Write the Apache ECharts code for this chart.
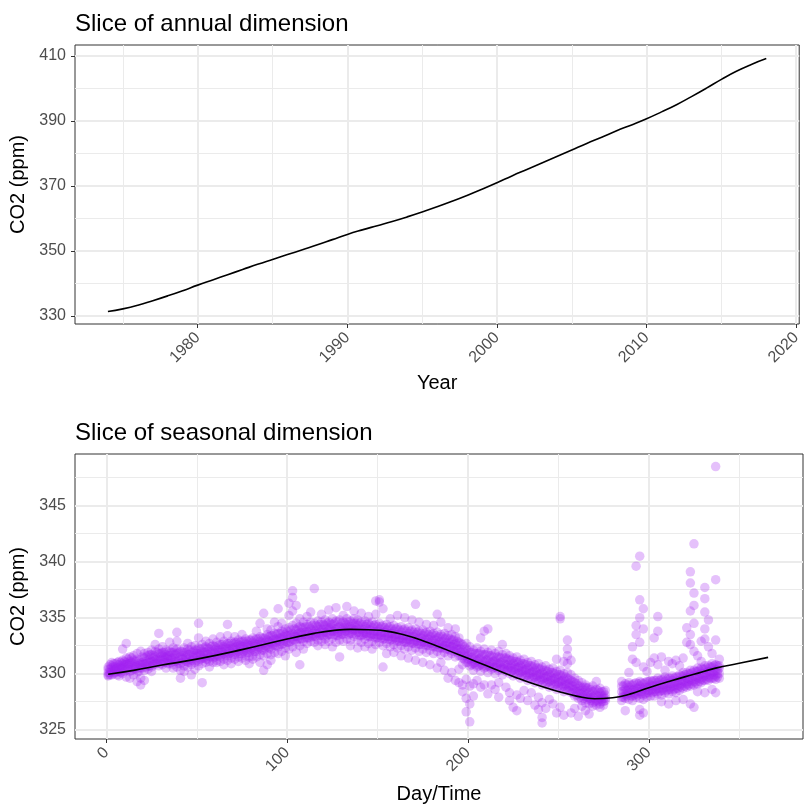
<!DOCTYPE html>
<html>
<head>
<meta charset="utf-8">
<script src="https://cdn.jsdelivr.net/npm/echarts@6/dist/echarts.min.js"></script>
<style>
html,body{margin:0;padding:0;background:#fff;}
#chart{width:804px;height:806px;}
</style>
</head>
<body>
<div id="chart"></div>
<script>
// ---------- Top panel: annual dimension ----------
const annualYears = [1974,1975,1976,1977,1978,1979,1980,1981,1982,1983,1984,1985,1986,1987,1988,1989,1990,1991,1992,1993,1994,1995,1996,1997,1998,1999,2000,2001,2002,2003,2004,2005,2006,2007,2008,2009,2010,2011,2012,2013,2014,2015,2016,2017,2018];
const annualCO2 = [331.4,332.2,333.3,334.7,336.2,337.8,339.5,341.1,342.7,344.3,345.9,347.4,348.9,350.4,351.9,353.5,355.1,356.5,357.8,359.1,360.5,362.0,363.6,365.3,367.1,369.0,371.0,373.1,375.1,377.1,379.1,381.1,383.1,385.0,387.0,388.8,390.7,392.8,395.0,397.5,400.1,402.8,405.3,407.4,409.2];
const yearTicks = [1980,1990,2000,2010,2020];
const yearMinor = [1975,1985,1995,2005,2015];
const annualYTicks = [330,350,370,390,410];
const annualYMinor = [340,360,380,400];

// ---------- Bottom panel: seasonal dimension ----------
const fitDays = [1,15,30,50,75,100,115,125,135,145,155,165,175,185,195,205,215,225,237,250,260,270,280,290,300,312,325,337,350,366];
const fitCO2 = [329.95,330.3,330.75,331.3,332.15,333.1,333.6,333.85,333.96,333.92,333.8,333.45,332.95,332.33,331.7,331.05,330.4,329.76,329.05,328.42,328.0,327.77,327.85,328.2,328.75,329.35,329.95,330.5,330.93,331.46];
const dayTicks = [0,100,200,300];
const dayMinor = [50,150,250,350];
const seasonalYTicks = [325,330,335,340,345];
const seasonalYMinor = [327.5,332.5,337.5,342.5,347.5];

// observations: [day, CO2 readings on that day...]
const obsJan = [
[1,329.8,330.1,330.4,329.9,330.6],[2,329.9,330.4,330.8,330.1],[3,330.2,330.7,329.9,330.5,331.0],[4,330.0,330.6,330.9,330.3],
[5,330.4,330.9,330.1,330.6,330.3],[6,330.2,330.5,331.0,329.9],[7,330.8,330.2,331.1,330.5,329.8],[8,330.1,330.7,331.0,330.4],
[9,330.6,331.2,330.0,330.9,330.4,332.2],[10,330.2,330.8,331.1,330.5],[11,330.3,331.4,330.8,329.7,331.0,332.7],[12,330.4,330.9,331.3,330.6],
[13,330.9,331.5,330.2,331.1,329.6],[14,330.3,331.0,331.4,330.7],[15,331.2,330.6,331.6,330.4,329.9],[16,330.4,330.8,331.1,330.6],
[17,330.7,331.3,330.1,329.3,331.8],[18,330.2,330.9,331.2,330.5],[19,330.5,331.0,329.6,330.8,329.0,332.0],[20,330.5,331.0,331.5,330.8],
[21,331.4,330.9,331.8,330.3,329.4],[22,330.6,331.1,331.5,330.9],[23,331.6,331.0,330.4,331.9,330.7],[24,330.7,331.3,331.7,331.0],
[25,331.1,331.7,330.6,332.1,330.2],[26,330.8,331.4,331.6,331.1],[27,331.5,330.9,332.0,331.2,332.6],[28,330.9,331.3,331.9,331.0],
[29,331.8,331.2,330.7,332.2,333.6],[30,330.9,331.5,331.8,331.2],[31,331.3,331.9,330.8,331.6,332.4]];
const obsFeb = [
[32,331.0,331.5,331.9,331.2],[33,331.0,331.7,330.5,332.1,331.4],[34,330.9,331.6,332.0,331.3],[35,331.6,332.0,330.9,331.2,332.8],
[36,331.0,331.4,331.9,331.3],[37,331.4,330.8,331.9,332.3,330.5],[38,331.1,331.7,332.1,331.4],[39,331.1,331.8,330.6,332.2,333.7,332.9],
[40,330.9,331.4,331.9,331.2],[41,330.9,331.5,332.0,330.3,329.6],[42,331.0,331.6,332.0,331.3],[43,331.3,330.7,331.9,332.3,330.2],
[44,331.1,331.5,331.9,331.4],[45,331.7,331.0,332.2,330.6,332.7],[46,331.0,331.7,332.1,331.3],[47,331.2,331.9,330.8,332.4,329.9],
[48,331.2,331.6,332.0,331.4],[49,331.6,332.1,331.0,332.5,330.4],[50,331.2,331.8,332.1,331.5],[51,331.8,331.1,332.3,330.7,334.5,333.2],
[52,331.3,331.8,332.2,331.6],[53,331.4,332.0,330.9,332.6,329.2],[54,331.4,331.9,332.3,331.6],[55,331.9,331.3,332.4,331.0,332.9],
[56,331.3,332.0,332.3,331.7],[57,331.5,332.2,331.1,332.7,330.6],[58,331.5,331.9,332.4,331.7],[59,332.0,331.4,332.5,331.0,333.1]];
const obsMar = [
[60,331.5,332.1,332.4,331.8],[61,331.7,332.3,331.2,332.8,331.0],[62,331.6,332.1,332.5,331.9],[63,332.1,331.5,332.6,331.1,333.3],
[64,331.7,332.2,332.6,331.9],[65,331.8,332.4,331.3,332.9,330.8],[66,331.6,332.3,332.6,332.0],[67,332.2,331.6,332.7,331.2,334.4,333.4],
[68,331.8,332.2,332.7,332.0],[69,331.9,332.5,331.4,332.9,330.9],[70,331.7,332.3,332.7,332.1],[71,332.3,331.7,332.8,331.3,333.3],
[72,331.9,332.4,332.8,332.1],[73,332.0,332.6,331.5,333.0,331.1],[74,331.8,332.5,332.8,332.2],[75,332.4,331.8,332.9,331.4,333.5],
[76,332.0,332.4,332.9,332.2],[77,332.1,332.7,331.6,333.1,331.2],[78,331.9,332.6,332.9,332.3],[79,332.5,331.9,333.0,331.5,330.9],
[80,332.1,332.5,333.0,332.3],[81,332.2,332.8,331.6,333.2,331.3],[82,332.0,332.7,333.0,332.4],[83,332.6,332.0,333.1,331.5,333.8],
[84,332.2,332.6,333.1,332.4],[85,332.3,332.9,331.7,333.3,334.5,331.0],[86,332.1,332.8,333.2,332.5],[87,332.7,332.1,333.2,331.6,335.4,330.3],
[88,332.3,332.8,333.2,332.5],[89,332.4,333.0,331.8,333.5,330.8,334.0],[90,332.3,332.9,333.3,332.6]];
const obsApr = [
[91,332.8,332.2,333.4,331.7,333.9,331.2],[92,332.5,333.0,333.4,332.7],[93,332.5,333.1,331.9,333.6,334.6],[94,332.5,333.1,333.5,332.8],
[95,333.0,332.4,333.6,331.8,335.8,334.2],[96,332.6,333.2,333.6,332.9],[97,333.2,332.6,333.8,332.0,334.5],[98,332.7,333.3,333.7,333.0],
[99,332.9,333.5,332.3,334.0,331.6],[100,332.8,333.4,333.8,333.1],[101,333.4,332.8,334.1,332.2,335.2,336.3],[102,332.9,333.5,333.9,333.2],
[103,333.6,333.0,334.3,332.4,337.4,336.8,335.6],[104,333.0,333.5,334.0,333.3],[105,333.3,333.9,332.7,334.5,336.1,331.9],[106,333.1,333.6,334.1,333.3],
[107,333.7,333.1,334.2,332.5,330.8,334.9],[108,333.1,333.7,334.1,333.4],[109,333.5,334.1,332.9,334.6,332.2],[110,333.2,333.7,334.2,333.5],
[111,333.8,333.2,334.4,332.7,335.1],[112,333.2,333.8,334.2,333.5],[113,333.4,334.0,332.9,334.6,335.5],[114,333.3,333.8,334.3,333.6],
[115,333.9,333.3,334.5,332.8,337.6],[116,333.3,333.9,334.3,333.6],[117,333.6,334.2,333.0,334.7,332.5],[118,333.4,333.9,334.4,333.7],
[119,334.0,333.4,334.6,332.9,335.3],[120,333.4,334.0,334.4,333.7]];
const obsMay = [
[121,333.7,334.3,333.1,334.8,332.6],[122,333.4,334.0,334.5,333.7],[123,334.1,333.5,334.6,332.9,335.7],[124,333.5,334.1,334.5,333.8],
[125,333.8,334.4,333.2,334.9,332.4],[126,333.5,334.0,334.5,333.8],[127,334.0,333.4,334.7,332.8,335.9],[128,333.4,334.1,334.6,333.7],
[129,333.6,334.2,333.0,334.8,331.5],[130,333.5,334.0,334.5,333.8],[131,334.1,333.5,334.6,332.9,335.2],[132,333.6,334.1,334.5,333.8],
[133,333.8,334.4,333.1,334.9,336.0],[134,333.5,334.1,334.6,333.9],[135,334.2,333.6,334.7,333.0,332.5],[136,333.6,334.0,334.5,333.8],
[137,333.9,334.5,333.3,334.9,335.6],[138,333.5,334.1,334.5,333.9],[139,333.7,334.3,333.0,334.8,332.3],[140,333.4,334.0,334.5,333.7],
[141,334.0,333.4,334.6,332.8,335.4],[142,333.5,333.9,334.4,333.7],[143,333.6,334.2,333.1,334.7,332.4],[144,333.4,334.0,334.4,333.6],
[145,333.9,333.3,334.5,332.7,335.1],[146,333.3,333.9,334.3,333.6],[147,333.5,334.1,332.9,334.6,332.2],[148,333.3,333.8,334.3,333.5],
[149,333.8,333.2,334.4,332.6,336.5,335.3],[150,333.2,333.8,334.2,333.5],[151,333.4,334.0,332.8,334.5,336.4,336.6]];
const obsJun = [
[152,333.2,333.7,334.2,333.4],[153,333.7,333.1,334.3,332.5,335.8,330.6],[154,333.1,333.7,334.1,333.4],[155,333.3,333.9,332.7,334.4,331.8],
[156,333.1,333.6,334.1,333.3],[157,333.6,333.0,334.2,332.4,334.9],[158,333.0,333.6,334.0,333.3],[159,333.2,333.8,332.6,334.3,331.9],
[160,333.0,333.5,334.0,333.2],[161,333.5,332.9,334.1,332.3,335.2],[162,332.9,333.5,333.9,333.2],[163,333.1,333.7,332.5,334.2,331.6],
[164,332.9,333.4,333.9,333.1],[165,333.4,332.8,334.0,332.2,335.0],[166,332.8,333.4,333.8,333.1],[167,333.0,333.6,332.4,334.1,331.4],
[168,332.8,333.3,333.8,333.0],[169,333.3,332.7,333.9,332.1,334.8],[170,332.7,333.3,333.7,333.0],[171,332.9,333.5,332.3,334.0,336.2,331.2],
[172,332.7,333.2,333.7,332.9],[173,333.2,332.6,333.8,332.0,334.6],[174,332.6,333.2,333.6,332.9],[175,332.8,333.4,332.2,333.9,331.0],
[176,332.6,333.1,333.6,332.8],[177,333.1,332.5,333.7,331.9,334.4],[178,332.5,333.1,333.5,332.8],[179,332.7,333.3,332.1,333.8,330.8],
[180,332.5,333.0,333.5,332.7],[181,333.0,332.4,333.6,331.8,334.3],[182,332.4,333.0,333.4,332.7]];
const obsJul = [
[183,332.6,333.2,332.0,333.7,335.3,330.5],[184,332.3,332.9,333.3,332.6],[185,332.9,332.3,333.5,331.7,334.6,331.0],[186,332.3,332.8,333.3,332.5],
[187,332.5,333.1,331.9,333.6,330.3],[188,332.2,332.8,333.2,332.5],[189,332.8,332.2,333.4,331.6,334.1,329.6],[190,332.1,332.7,333.1,332.4],
[191,332.4,333.0,331.8,333.5,330.1],[192,332.0,332.6,333.0,332.3],[193,332.7,332.1,333.3,331.5,329.4,334.0],[194,331.9,332.5,332.9,332.2],
[195,332.2,332.8,331.6,333.2,330.4,329.2],[196,331.6,332.2,332.7,331.9],[197,332.0,331.4,332.6,330.8,329.0,328.4],[198,331.3,331.9,332.4,331.6],
[199,331.6,332.2,331.0,332.7,329.5,327.8,326.6],[200,331.0,331.6,332.1,331.3],[201,331.3,331.9,330.7,332.4,328.9,327.3,325.7],[202,330.8,331.4,331.9,331.1],
[203,331.5,330.9,332.1,330.3,329.1,328.0],[204,330.8,331.3,331.8,331.0],[205,331.2,331.8,330.6,332.3,329.4],[206,330.7,331.3,331.8,331.0],
[207,331.4,330.8,332.0,330.2,333.2,328.8],[208,330.7,331.2,331.7,330.9],[209,331.1,331.7,330.5,332.2,333.8,329.0],[210,330.6,331.2,331.7,330.9],
[211,331.3,330.7,331.9,330.1,334.0,328.2],[212,330.6,331.1,331.6,330.8]];
const obsAug = [
[213,331.0,331.6,330.4,332.1,329.0],[214,330.5,331.1,331.5,330.8],[215,331.2,330.6,331.8,330.0,328.6],[216,330.5,331.0,331.5,330.7],
[217,330.9,331.5,330.3,332.0,329.2,327.9],[218,330.4,331.0,331.4,330.7],[219,331.1,330.5,331.7,329.9,332.6],[220,330.4,330.9,331.4,330.6],
[221,330.8,331.4,330.2,331.8,328.8],[222,330.3,330.8,331.3,330.5],[223,330.6,331.2,330.0,331.6,327.6,328.3],[224,330.2,330.8,331.2,330.5],
[225,330.9,330.3,331.4,329.8,327.0],[226,330.1,330.7,331.1,330.4],[227,330.5,331.1,329.9,331.5,328.1,326.7],[228,330.0,330.6,331.0,330.3],
[229,330.7,330.1,331.2,329.6,327.8],[230,329.9,330.5,330.9,330.2],[231,330.3,330.9,329.7,331.3,328.5],[232,329.8,330.4,330.8,330.1],
[233,330.5,329.9,331.0,329.4,327.6],[234,329.7,330.3,330.7,330.0],[235,330.1,330.7,329.5,331.1,328.3],[236,329.6,330.2,330.6,329.9],
[237,330.3,329.7,330.8,329.2,327.2],[238,329.5,330.1,330.5,329.8],[239,329.9,330.5,329.3,330.9,326.8,327.9],[240,329.4,330.0,330.4,329.7],
[241,330.1,329.5,330.6,329.0,326.1,325.6,327.4],[242,329.3,329.9,330.3,329.6],[243,329.7,330.3,329.1,330.7,326.9],[244,329.2,329.8,330.2,329.5]];
const obsSep = [
[245,329.9,329.3,330.4,328.8,327.7],[246,329.1,329.7,330.1,329.4],[247,329.5,330.1,328.9,330.5,327.3],[248,329.0,329.6,330.0,329.3],
[249,329.7,329.1,330.2,328.6,326.5,331.3],[250,328.9,329.5,329.9,329.2],[251,329.3,329.9,328.7,330.3,335.1,334.9,327.0],[252,328.8,329.4,329.8,329.1],
[253,329.5,328.9,330.0,328.4,331.1,326.3],[254,328.7,329.3,329.7,329.0],[255,329.1,329.6,328.5,330.1,332.2,333.0,331.6,330.9],[256,328.5,329.1,329.5,328.8],
[257,328.9,329.4,328.3,329.9,331.2,326.5],[258,328.3,328.9,329.3,328.6],[259,328.6,329.2,328.0,329.6,326.9],[260,328.1,328.7,329.1,328.4],
[261,328.4,328.9,327.8,329.4,326.2],[262,327.9,328.5,328.9,328.2],[263,328.2,328.7,327.6,329.2,327.1],[264,327.8,328.3,328.8,328.0],
[265,328.0,328.5,327.4,329.0,328.8,326.7],[266,327.7,328.2,328.7,327.9],[267,328.3,327.8,328.8,327.3,326.4],[268,327.6,328.1,328.6,327.8],
[269,327.9,328.4,327.4,328.9,327.1],[270,327.5,328.1,328.5,327.8],[271,328.1,327.6,328.6,327.2,329.3],[272,327.5,328.0,328.5,327.7],
[273,327.8,328.3,327.3,328.7,327.0],[274,327.5,328.0,328.4,327.7],[275,328.0,327.5,328.4,327.2,327.8],[276,327.6,328.1,328.5,327.8]];
const obsOct = [
[285,328.4,327.9,328.9,327.6,329.3],[286,327.9,328.5,328.9,328.2],[287,328.6,328.1,329.1,327.8,326.7],[288,328.0,328.5,329.0,328.2],
[289,328.3,328.8,327.7,329.2,330.1],[290,328.0,328.6,329.0,328.3],[291,328.5,328.0,329.0,327.6,331.3,332.4],[292,328.1,328.6,329.1,328.3],
[293,328.7,328.2,329.2,327.9,339.6,333.5,331.0,334.3],[294,328.1,328.7,329.1,328.4],
[295,328.4,328.9,327.8,329.3,340.5,336.6,335.0,332.8,326.3,326.8],[296,328.2,328.7,329.2,328.4],
[297,328.6,328.1,329.1,327.7,335.8,334.0,330.6,326.5],[298,328.2,328.8,329.2,328.5],[299,328.8,328.3,329.3,327.9,330.2],[300,328.3,328.8,329.3,328.5],
[301,328.5,329.0,328.0,329.4,331.0],[302,328.3,328.9,329.3,328.6],[303,328.9,328.4,329.4,328.0,333.2,331.4],[304,328.4,328.9,329.4,328.6],
[305,328.7,329.2,328.2,329.6,335.1,333.8,330.8]];
const obsNov = [
[306,328.4,329.0,329.4,328.7],[307,329.0,328.5,329.5,328.1,331.5,327.5],[308,328.5,329.0,329.5,328.7],[309,328.8,329.3,328.3,329.7,330.3],
[310,328.5,329.1,329.5,328.8],[311,329.1,328.6,329.6,328.2,331.1,327.3],[312,328.6,329.1,329.6,328.8],[313,328.9,329.4,328.4,329.8,330.9],
[314,328.6,329.2,329.6,328.9],[315,329.2,328.7,329.7,328.3,331.2,327.6],[316,328.7,329.3,329.7,329.0],[317,329.4,328.9,329.9,328.5,330.7],
[318,328.8,329.4,329.8,329.1],[319,329.3,329.8,328.7,330.1,331.4,327.7],[320,328.9,329.5,329.9,329.2],[321,329.6,329.1,330.1,328.8,332.8,334.1],
[322,329.0,329.6,330.0,329.3],[323,329.5,330.0,328.9,330.3,339.1,338.1,335.6,333.5,332.6,327.3],[324,329.1,329.7,330.1,329.4],
[325,329.8,329.3,330.3,329.0,341.6,337.2,336.1,334.5,332.0,327.0],[326,329.2,329.8,330.2,329.5],[327,329.7,330.2,329.1,330.5,331.6,328.4],
[328,329.3,329.9,330.3,329.6],[329,330.0,329.5,330.5,329.2,332.9,331.1],[330,329.4,330.0,330.4,329.7],
[331,329.9,330.4,329.4,330.7,337.7,336.7,335.5,334.0,333.1,328.3],[332,329.5,330.1,330.5,329.8],[333,330.2,329.7,330.7,329.4,332.4,334.8],[334,329.6,330.2,330.6,329.9]];
const obsDec = [
[335,330.1,330.6,329.6,330.9,331.8,328.6],[336,329.6,330.2,330.7,329.9],[337,330.3,329.8,330.8,329.5,348.5,338.4,333.0,328.3],
[338,329.7,330.3,330.7,330.0],[339,330.0,330.5,329.6,330.7,331.3]];

const observations = [].concat(obsJan,obsFeb,obsMar,obsApr,obsMay,obsJun,obsJul,obsAug,obsSep,obsOct,obsNov,obsDec);
const scatterData = [];
observations.forEach(function(row){
  for (let i = 1; i < row.length; i++) scatterData.push([row[0], row[i]]);
});

const FONT = "'Liberation Sans', Arial, Helvetica, sans-serif";
const GRID_COLOR = '#ebebeb';

function gridLineData(xMajor, xMinor, yMajor, yMinor) {
  const d = [];
  xMinor.forEach(v => d.push({xAxis: v, lineStyle: {width: 1, color: GRID_COLOR, type: 'solid'}}));
  yMinor.forEach(v => d.push({yAxis: v, lineStyle: {width: 1, color: GRID_COLOR, type: 'solid'}}));
  xMajor.forEach(v => d.push({xAxis: v, lineStyle: {width: 2, color: GRID_COLOR, type: 'solid'}}));
  yMajor.forEach(v => d.push({yAxis: v, lineStyle: {width: 2, color: GRID_COLOR, type: 'solid'}}));
  return d;
}

function valueAxis(opts) {
  return {
    type: 'value',
    gridIndex: opts.grid,
    min: opts.min,
    max: opts.max,
    axisLine: {show: false},
    axisTick: {show: true, customValues: opts.ticks, length: 4, lineStyle: {color: '#333333', width: 1}},
    axisLabel: {customValues: opts.ticks, color: '#4d4d4d', fontSize: 16, fontFamily: FONT, margin: opts.margin,
      rotate: opts.rotate || 0, formatter: function (v) { return String(v); }},
    splitLine: {show: false},
    minorSplitLine: {show: false},
    name: opts.name,
    nameLocation: 'middle',
    nameGap: opts.nameGap,
    nameTextStyle: {fontSize: 20, color: '#000000', fontFamily: FONT}
  };
}

function gridSeries(idx, xMajor, xMinor, yMajor, yMinor) {
  return {
    type: 'line', xAxisIndex: idx, yAxisIndex: idx, data: [], z: 1, silent: true,
    markLine: {silent: true, z: 1, symbol: ['none', 'none'], label: {show: false}, emphasis: {disabled: true},
      animation: false, data: gridLineData(xMajor, xMinor, yMajor, yMinor)}
  };
}

const chart = echarts.init(document.getElementById('chart'), null, {renderer: 'canvas'});
chart.setOption({
  animation: false,
  backgroundColor: '#ffffff',
  textStyle: {fontFamily: FONT},
  title: [
    {text: 'Slice of annual dimension', left: 70, top: 7, textStyle: {fontSize: 24, fontWeight: 'normal', color: '#000', fontFamily: FONT}},
    {text: 'Slice of seasonal dimension', left: 70, top: 416, textStyle: {fontSize: 24, fontWeight: 'normal', color: '#000', fontFamily: FONT}}
  ],
  grid: [
    {left: 75, top: 45, width: 728, height: 279, show: true, borderColor: '#333333', borderWidth: 1, backgroundColor: 'transparent', z: 0},
    {left: 75, top: 454, width: 728, height: 285, show: true, borderColor: '#333333', borderWidth: 1, backgroundColor: 'transparent', z: 0}
  ],
  xAxis: [
    valueAxis({grid: 0, min: 1971.8, max: 2020.2, ticks: yearTicks, margin: 11, rotate: 45, name: 'Year', nameGap: 49}),
    valueAxis({grid: 1, min: -17.35, max: 385.3, ticks: dayTicks, margin: 11, rotate: 45, name: 'Day/Time', nameGap: 45})
  ],
  yAxis: [
    valueAxis({grid: 0, min: 327.54, max: 413.38, ticks: annualYTicks, margin: 9, name: 'CO2 (ppm)', nameGap: 38}),
    valueAxis({grid: 1, min: 324.17, max: 349.62, ticks: seasonalYTicks, margin: 9, name: 'CO2 (ppm)', nameGap: 38})
  ],
  series: [
    gridSeries(0, yearTicks, yearMinor, annualYTicks, annualYMinor),
    gridSeries(1, dayTicks, dayMinor, seasonalYTicks, seasonalYMinor),
    {
      type: 'line', xAxisIndex: 0, yAxisIndex: 0, z: 3,
      data: annualYears.map((y, i) => [y, annualCO2[i]]),
      smooth: true, showSymbol: false, symbol: 'none',
      lineStyle: {color: '#000000', width: 1.6}
    },
    {
      type: 'scatter', xAxisIndex: 1, yAxisIndex: 1, z: 2,
      data: scatterData, symbolSize: 9.5,
      itemStyle: {color: '#a020f0', opacity: 0.28},
      emphasis: {disabled: true}
    },
    {
      type: 'line', xAxisIndex: 1, yAxisIndex: 1, z: 3,
      data: fitDays.map((d, i) => [d, fitCO2[i]]),
      smooth: true, showSymbol: false, symbol: 'none',
      lineStyle: {color: '#000000', width: 1.6}
    }
  ]
});
</script>
</body>
</html>
